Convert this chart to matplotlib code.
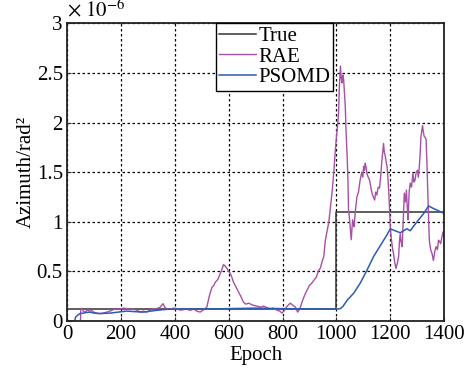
import numpy as np
import matplotlib
matplotlib.use('Agg')
import matplotlib.pyplot as plt
from matplotlib.ticker import FormatStrFormatter

# ---------------------------------------------------------------------------------------------- #
# Data (values in units of 1e-6).
# ---------------------------------------------------------------------------------------------- #
TrueEpoch = [0, 1000, 1000, 1400]
TrueVals = [0.12, 0.12, 1.1, 1.1]

RaeEpoch = [50, 51, 55, 60, 67, 75, 85, 92, 98, 110, 120, 135, 148, 160, 172, 185, 197, 210, 222,
            234, 246, 259, 272, 284, 296, 309, 320, 333, 346, 356, 364, 373, 383, 395, 408, 420,
            433, 445, 457, 470, 482, 494, 505, 519, 528, 538, 545, 550, 560, 569, 575, 581, 588,
            594, 600, 606, 612, 618, 626, 637, 645, 655, 664, 674, 690, 705, 720, 730, 742, 755,
            765, 779, 790, 798, 805, 817, 829, 838, 848, 856, 864, 872, 882, 891, 900, 908, 916,
            925, 934, 940, 947, 953, 959, 965, 972, 978, 984, 990, 996, 1000, 1005, 1008, 1011,
            1015, 1018, 1021, 1024, 1027, 1030, 1033, 1036, 1040, 1043, 1045, 1048, 1051, 1055,
            1058, 1060, 1063, 1066, 1070, 1076, 1082, 1088, 1094, 1098, 1101, 1104, 1107, 1110,
            1113, 1118, 1123, 1128, 1132, 1137, 1142, 1146, 1150, 1155, 1160, 1164, 1169, 1172,
            1175, 1178, 1181, 1185, 1188, 1191, 1194, 1197, 1200, 1203, 1206, 1209, 1212, 1216,
            1221, 1226, 1231, 1234, 1237, 1240, 1244, 1248, 1252, 1256, 1260, 1263, 1266, 1270,
            1274, 1279, 1284, 1288, 1292, 1296, 1301, 1304, 1308, 1311, 1314, 1317, 1320, 1323,
            1326, 1330, 1333, 1336, 1339, 1342, 1345, 1348, 1351, 1355, 1360, 1365, 1370, 1375,
            1379, 1383, 1387, 1392, 1396, 1400]
RaeVals = [0.0, 0.12, 0.13, 0.10, 0.09, 0.11, 0.10, 0.105, 0.09, 0.08, 0.075, 0.08, 0.09, 0.10,
           0.115, 0.125, 0.12, 0.13, 0.125, 0.115, 0.12, 0.11, 0.09, 0.10, 0.09, 0.11, 0.12,
           0.125, 0.14, 0.175, 0.135, 0.12, 0.118, 0.13, 0.125, 0.11, 0.115, 0.12, 0.108, 0.12,
           0.10, 0.09, 0.11, 0.14, 0.25, 0.34, 0.36, 0.39, 0.42, 0.48, 0.52, 0.57, 0.55, 0.53,
           0.50, 0.48, 0.44, 0.39, 0.35, 0.29, 0.25, 0.19, 0.17, 0.18, 0.16, 0.15, 0.14, 0.15,
           0.135, 0.12, 0.13, 0.11, 0.10, 0.08, 0.10, 0.15, 0.18, 0.16, 0.14, 0.09, 0.12, 0.19,
           0.26, 0.31, 0.36, 0.38, 0.41, 0.44, 0.51, 0.53, 0.60, 0.65, 0.815, 0.90, 1.00, 1.15,
           1.30, 1.49, 1.72, 1.85, 1.99, 2.10, 2.36, 2.57, 2.45, 2.40, 2.48, 2.43, 2.30, 2.16,
           1.90, 1.66, 1.40, 1.12, 1.05, 0.95, 0.82, 0.95, 1.02, 0.98, 0.95, 1.10, 1.25, 1.30,
           1.42, 1.50, 1.45, 1.56, 1.52, 1.59, 1.55, 1.49, 1.45, 1.42, 1.35, 1.29, 1.25, 1.22,
           1.30, 1.27, 1.35, 1.34, 1.45, 1.62, 1.70, 1.79, 1.70, 1.67, 1.60, 1.56, 1.45, 1.32,
           1.15, 0.95, 0.85, 0.78, 0.72, 0.68, 0.60, 0.53, 0.58, 0.65, 0.80, 0.88, 0.80, 0.75,
           1.00, 1.29, 1.20, 1.32, 1.15, 1.02, 1.30, 1.39, 1.35, 1.49, 1.40, 1.42, 1.50, 1.52,
           1.45, 1.56, 1.70, 1.86, 1.92, 1.97, 1.90, 1.86, 1.85, 1.83, 1.60, 1.32, 1.05, 0.815,
           0.75, 0.71, 0.68, 0.61, 0.70, 0.75, 0.72, 0.815, 0.80, 0.78, 0.85, 0.90, 0.85]

PsoEpoch = [0, 28, 32, 40, 48, 60, 70, 85, 100, 123, 140, 160, 190, 222, 250, 284, 310, 333, 370,
            420, 500, 600, 700, 800, 900, 1000, 1015, 1025, 1040, 1064, 1088, 1113, 1138, 1163,
            1188, 1200, 1218, 1237, 1249, 1262, 1274, 1299, 1323, 1342, 1360, 1400]
PsoVals = [0.0, 0.0, 0.04, 0.06, 0.075, 0.08, 0.085, 0.09, 0.08, 0.075, 0.078, 0.08, 0.09, 0.10,
           0.095, 0.09, 0.10, 0.108, 0.118, 0.12, 0.12, 0.125, 0.13, 0.125, 0.122, 0.12, 0.125,
           0.15, 0.21, 0.28, 0.38, 0.51, 0.65, 0.76, 0.87, 0.93, 0.91, 0.89, 0.91, 0.93, 0.91,
           1.0, 1.08, 1.16, 1.135, 1.085]

Labels = ['True', 'RAE', 'PSOMD']
Colors = ['#333333', '#a84fa8', '#2a5cb8']

# ---------------------------------------------------------------------------------------------- #
# Plot.
# ---------------------------------------------------------------------------------------------- #
plt.rcParams['font.family'] = ['Liberation Serif', 'DejaVu Serif']
plt.rcParams['mathtext.fontset'] = 'stix'
FontSize = 15

fig = plt.figure(figsize=(4.72, 3.72), dpi=100)
ax = fig.add_axes([0.142, 0.137, 0.799, 0.800])

ax.plot(TrueEpoch, TrueVals, color=Colors[0], linewidth=1.1, label=Labels[0])
ax.plot(RaeEpoch, RaeVals, color=Colors[1], linewidth=1.0, label=Labels[1])
ax.plot(PsoEpoch, PsoVals, color=Colors[2], linewidth=1.1, label=Labels[2])

ax.set_xlim(0, 1400)
ax.set_ylim(0, 3)
ax.set_xticks(np.arange(0, 1401, 200))
ax.set_yticks(np.arange(0, 3.01, 0.5))
ax.yaxis.set_major_formatter(FormatStrFormatter('%g'))
ax.tick_params(direction='in', labelsize=FontSize, length=3, color='#333333', pad=3)
ax.grid(True, linestyle=(0, (2, 2)), color='black', linewidth=0.9)
for Spine in ax.spines.values():
    Spine.set_linewidth(1.3)
    Spine.set_color('#222222')

# Scale factor written above the axes, as in the reference.
ax.text(0.0, 1.005, r'$\times\ 10^{-6}$', transform=ax.transAxes, ha='left', va='bottom',
        fontsize=FontSize)

ax.set_xlabel('Epoch', fontsize=FontSize, labelpad=1)
ax.set_ylabel('Azimuth/rad²', fontsize=FontSize, labelpad=1)

Leg = ax.legend(loc='upper left', bbox_to_anchor=(0.394, 1.0), borderaxespad=0,
                fontsize=FontSize, fancybox=False, framealpha=1, edgecolor='black',
                handlelength=1.8, handletextpad=0.1, labelspacing=0.05, borderpad=0.15)
Leg.get_frame().set_linewidth(1.0)

fig.savefig('out.png', dpi=100)
